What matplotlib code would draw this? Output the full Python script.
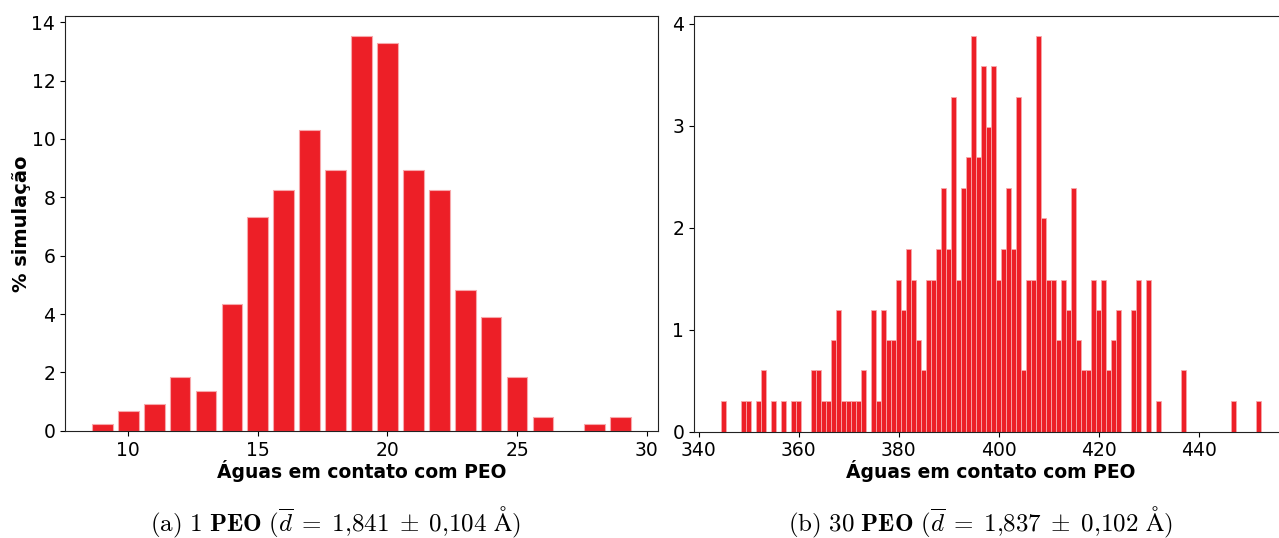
import matplotlib
matplotlib.use("Agg")
import matplotlib.pyplot as plt

# Fração da simulação (%) por número de águas em contato com o PEO
waters_1peo = [9, 10, 11, 12, 13, 14, 15, 16, 17, 18, 19, 20, 21, 22, 23, 24, 25, 26, 28, 29]
pct_1peo = [0.23, 0.69, 0.92, 1.83, 1.38, 4.36, 7.34, 8.26, 10.32, 8.94,
            13.53, 13.30, 8.94, 8.26, 4.82, 3.90, 1.83, 0.46, 0.23, 0.46]

waters_30peo = [345, 349, 350, 352, 353, 355, 357, 359, 360,
                363, 364, 365, 366, 367, 368, 369, 370, 371, 372, 373,
                375, 376, 377, 378, 379, 380, 381, 382, 383, 384,
                385, 386, 387, 388, 389, 390, 391, 392, 393, 394,
                395, 396, 397, 398, 399, 400, 401, 402, 403, 404,
                405, 406, 407, 408, 409, 410, 411, 412, 413, 414,
                415, 416, 417, 418, 419, 420, 421, 422, 423, 424,
                427, 428, 430, 432, 437, 447, 452]
pct_30peo = [0.30, 0.30, 0.30, 0.30, 0.60, 0.30, 0.30, 0.30, 0.30,
             0.60, 0.60, 0.30, 0.30, 0.90, 1.19, 0.30, 0.30, 0.30, 0.30, 0.60,
             1.19, 0.30, 1.19, 0.90, 0.90, 1.49, 1.19, 1.79, 1.49, 0.90,
             0.60, 1.49, 1.49, 1.79, 2.39, 1.79, 3.28, 1.49, 2.39, 2.69,
             3.88, 2.69, 3.58, 2.99, 3.58, 1.49, 1.79, 2.39, 1.79, 3.28,
             0.60, 1.49, 1.49, 3.88, 2.09, 1.49, 1.49, 0.90, 1.49, 1.19,
             2.39, 0.90, 0.60, 0.60, 1.49, 1.19, 1.49, 0.60, 0.90, 1.19,
             1.19, 1.49, 1.49, 0.30, 0.60, 0.30, 0.30]

XLABEL = "Águas em contato com PEO"
YLABEL = "% simulação"
CAPTION_A = (r"$\mathrm{(a)\ 1\ }\mathbf{PEO}\ (\overline{d}\;=\;1{,}841\;\pm\;"
             r"0{,}104\ \mathrm{Å})$")
CAPTION_B = (r"$\mathrm{(b)\ 30\ }\mathbf{PEO}\ (\overline{d}\;=\;1{,}837\;\pm\;"
             r"0{,}102\ \mathrm{Å})$")

RED = "#ed1f27"
EDGE = "#f7a8ab"

plt.rcParams["mathtext.fontset"] = "cm"
plt.rcParams["font.family"] = ["DejaVu Sans"]

W, H = 1279, 538
fig = plt.figure(figsize=(W / 100, H / 100), dpi=100)

# eixos em pixels: esquerda, base, largura, altura
ax1 = fig.add_axes([65 / W, 1 - 430.8 / H, 593 / W, 414.7 / H])
ax2 = fig.add_axes([694 / W, 1 - 431.7 / H, 594 / W, 415.7 / H])

ax1.bar(waters_1peo, pct_1peo, width=0.8, color=RED, edgecolor=EDGE, linewidth=0.8)
ax2.bar(waters_30peo, pct_30peo, width=1.0, color=RED, edgecolor=EDGE, linewidth=0.6)

for ax in (ax1, ax2):
    ax.tick_params(labelsize=13.5, length=3.5)
    ax.set_xlabel(XLABEL, fontsize=13.5, fontweight="bold", labelpad=0)
    for s in ax.spines.values():
        s.set_color("#222222")
ax1.set_ylabel(YLABEL, fontsize=14, fontweight="bold", labelpad=0)
ax2.set_yticks([0, 1, 2, 3, 4])

fig.text(335 / W, 1 - 522 / H, CAPTION_A, ha="center", va="center", fontsize=18)
fig.text(980 / W, 1 - 522 / H, CAPTION_B, ha="center", va="center", fontsize=18)

fig.savefig("out.png", dpi=100)
